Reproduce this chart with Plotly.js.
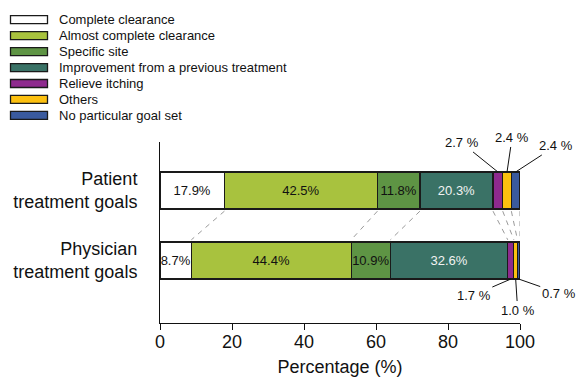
<!DOCTYPE html>
<html>
<head>
<meta charset="utf-8">
<script src="https://cdn.plot.ly/plotly-3.0.1.min.js"></script>
<style>html,body{margin:0;padding:0;background:#fff}#chart{width:576px;height:377px}</style>
</head>
<body>
<div id="chart"></div>
<script>
// ---- data ----
var goalNames = ['Complete clearance', 'Almost complete clearance', 'Specific site',
  'Improvement from a previous treatment', 'Relieve itching', 'Others', 'No particular goal set'];
var groupLabels = ['Patient<br>treatment goals', 'Physician<br>treatment goals'];
var patientValues = [17.9, 42.5, 11.8, 20.3, 2.7, 2.4, 2.4];
var physicianValues = [8.7, 44.4, 10.9, 32.6, 1.7, 1.0, 0.7];
var xTickVals = [0, 20, 40, 60, 80, 100];

// ---- styles ----
var colors = ['#ffffff', '#a8c23e', '#5e9444', '#3a7266', '#8e2a8e', '#fcc010', '#3a5a9e'];
var textColors = ['#111', '#111', '#111', '#f2f2f2', '#111', '#111', '#111'];
var FONT = 'Liberation Sans, Arial, Helvetica, sans-serif';
var barW = 0.53;
var yPatient = 1, yPhys = 0;
var L = 160, R = 56, T = 142, B = 54, W = 576, H = 377;
var PW = W - L - R, PH = H - T - B;
function px2paperX(p) { return (p - L) / PW; }
function px2paperY(p) { return (H - B - p) / PH; }

function fmtIn(v) { return v >= 5 ? v.toFixed(1) + '%' : ''; }

var traces = goalNames.map(function (name, i) {
  return {
    type: 'bar', orientation: 'h', name: name,
    x: [patientValues[i], physicianValues[i]],
    y: [yPatient, yPhys],
    width: barW,
    text: [fmtIn(patientValues[i]), fmtIn(physicianValues[i])],
    textposition: 'inside', insidetextanchor: 'middle', constraintext: 'none', textangle: 0,
    textfont: {family: FONT, size: 13, color: textColors[i]},
    marker: {color: colors[i], line: {color: '#1a1a1a', width: 1.2}},
    hoverinfo: 'name+x', showlegend: false
  };
});

function cumsum(a) { var s = 0; return a.map(function (v) { s += v; return s; }); }
var cumP = cumsum(patientValues), cumH = cumsum(physicianValues);

var shapes = [];
// dashed connectors between segment boundaries
cumP.forEach(function (c, i) {
  shapes.push({type: 'line', xref: 'x', yref: 'y',
    x0: c, y0: yPatient - barW / 2 - 0.03, x1: cumH[i], y1: yPhys + barW / 2 + 0.03,
    line: {color: '#9a9a9a', width: 1, dash: '5px,5px'}, layer: 'below'});
});

var annotations = [];
// leader-line labels for small segments (pixel offsets of text from segment)
var patientOffsets = {4: [-36, -29], 5: [5, -34], 6: [40, -26]};
var physOffsets = {4: [-37, 16], 5: [2, 31], 6: [40, 14]};
function addLeaders(vals, cum, yc, top, offs) {
  Object.keys(offs).forEach(function (k) {
    var i = +k, v = vals[i];
    annotations.push({
      x: cum[i] - v / 2, y: top ? yc + barW / 2 : yc - barW / 2, xref: 'x', yref: 'y',
      text: v.toFixed(1) + ' %', showarrow: true, arrowhead: 0, arrowwidth: 1,
      arrowcolor: '#111', standoff: 0, ax: offs[k][0], ay: offs[k][1],
      font: {family: FONT, size: 13, color: '#111'}
    });
  });
}
addLeaders(patientValues, cumP, yPatient, true, patientOffsets);
addLeaders(physicianValues, cumH, yPhys, false, physOffsets);

// custom legend
goalNames.forEach(function (name, i) {
  var cy = 19.7 + i * 15.95;
  shapes.push({type: 'rect', xref: 'paper', yref: 'paper',
    x0: px2paperX(10.5), x1: px2paperX(47.5), y0: px2paperY(cy - 4), y1: px2paperY(cy + 4),
    fillcolor: colors[i], line: {color: '#1a1a1a', width: 1.3}});
  annotations.push({xref: 'paper', yref: 'paper', x: px2paperX(57), y: px2paperY(cy),
    xanchor: 'left', yanchor: 'middle', showarrow: false, text: name,
    font: {family: FONT, size: 13, color: '#111'}});
});

var layout = {
  width: W, height: H,
  margin: {l: L, r: R, t: T, b: B},
  paper_bgcolor: '#fff', plot_bgcolor: '#fff',
  barmode: 'stack', showlegend: false,
  font: {family: FONT, color: '#111'},
  xaxis: {
    range: [0, 100], tickvals: xTickVals, ticks: 'outside', ticklen: 6, tickwidth: 1,
    tickcolor: '#111', showline: true, linecolor: '#111', linewidth: 1,
    showgrid: false, zeroline: false, tickfont: {family: FONT, size: 18, color: '#111'},
    ticklabelstandoff: -4,
    title: {text: 'Percentage (%)', font: {family: FONT, size: 18, color: '#111'}, standoff: 12},
    fixedrange: true
  },
  yaxis: {
    range: [-0.893, 1.693], tickvals: [yPatient, yPhys], ticktext: groupLabels,
    ticks: '', showline: true, linecolor: '#111', linewidth: 1, showgrid: false, zeroline: false,
    tickfont: {family: FONT, size: 18, color: '#111'}, ticklabelstandoff: 18, fixedrange: true
  },
  shapes: shapes,
  annotations: annotations
};

Plotly.newPlot('chart', traces, layout, {displayModeBar: false, staticPlot: true});
</script>
</body>
</html>
